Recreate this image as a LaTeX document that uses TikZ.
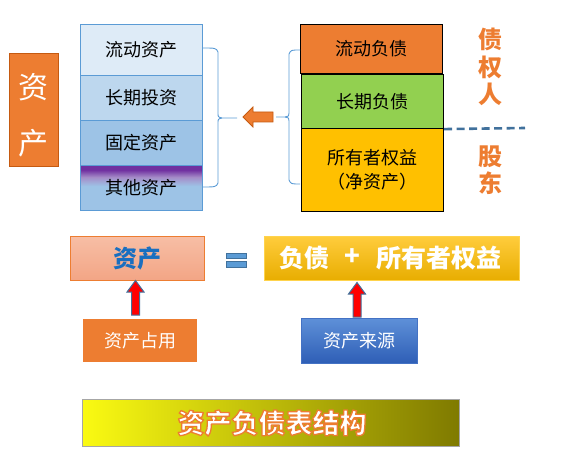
\documentclass[tikz,border=0pt]{standalone}
\usepackage{fontspec}
\setmainfont{Noto Sans CJK SC}
\usetikzlibrary{calc}
\definecolor{aorange}{HTML}{ED7D31}
\definecolor{aorangeD}{HTML}{C55A11}
\definecolor{cellA}{HTML}{DEEBF7}
\definecolor{cellB}{HTML}{BDD7EE}
\definecolor{cellC}{HTML}{9DC3E6}
\definecolor{cellLine}{HTML}{5B9BD5}
\definecolor{apurple}{HTML}{7030A0}
\definecolor{alav}{HTML}{A58CC8}
\definecolor{agreen}{HTML}{92D050}
\definecolor{agold}{HTML}{FFC000}
\definecolor{dashC}{HTML}{41719C}
\definecolor{salmonT}{HTML}{F7BEA5}
\definecolor{salmonB}{HTML}{F3A585}
\definecolor{textBlue}{HTML}{1A6FC0}
\definecolor{goldT}{HTML}{FFCC3C}
\definecolor{goldB}{HTML}{E8AD00}
\definecolor{blueT}{HTML}{5E90D8}
\definecolor{blueB}{HTML}{2E5EB6}
\definecolor{blueLine}{HTML}{4472C4}
\definecolor{titleL}{HTML}{FAFA12}
\definecolor{titleR}{HTML}{7F7A00}
\definecolor{titleLine}{HTML}{A6A6A6}
\pgfdeclareverticalshading{otherasset}{100bp}{color(0bp)=(cellC); color(52bp)=(cellC); color(62bp)=(alav); color(70bp)=(apurple); color(100bp)=(apurple)}
\newcommand{\outlinedtext}[1]{\special{pdf:literal direct 2 Tr 1.3 w 1 j 0.929 0.490 0.192 RG}#1\special{pdf:literal direct 0 Tr}}
\begin{document}
\begin{tikzpicture}[x=1pt,y=-1pt,
  lcell/.style={draw=cellLine, line width=0.9pt, minimum width=122, anchor=north west, inner sep=0pt, font=\fontsize{18}{24}\selectfont},
  rcell/.style={draw=black, line width=1.1pt, minimum width=142, anchor=north west, inner sep=0pt, align=center, font=\fontsize{18}{24}\selectfont},
  bracestyle/.style={draw=cellLine, line width=0.9pt},
  vtext/.style={text=aorange, align=center, font=\fontsize{24}{27.5}\selectfont\bfseries},
  redarr/.style={fill=red, draw=dashC, line width=1pt, line join=miter},
  wbox/.style={anchor=north west, inner sep=0pt, text=white},
  eqbar/.style={fill=cellLine, draw=dashC, line width=0.8pt}
]
\useasboundingbox (0,0) rectangle (575,462);

% big left asset box
\node[wbox, fill=aorange, draw=aorangeD, line width=0.9pt, minimum width=49, minimum height=113] (bigasset) at (9,53) {};
\node[text=white, font=\fontsize{30}{30}\selectfont] (bigA1) at (33.5,87) {资};
\node[text=white, font=\fontsize{30}{30}\selectfont] (bigA2) at (33.5,143) {产};

% left stack
\node[lcell, fill=cellA, minimum height=51] (la1) at (80,24) {流动资产};
\node[lcell, fill=cellB, minimum height=45] (la2) at (80,75) {长期投资};
\node[lcell, fill=cellC, minimum height=45] (la3) at (80,120) {固定资产};
\node[lcell, shading=otherasset, minimum height=45] (la4) at (80,165) {其他资产};

% right stack
\node[rcell, fill=aorange, minimum height=49] (rs1) at (300,24) {流动负债};
\node[rcell, fill=agreen, minimum height=54] (rs2) at (301,74) {长期负债};
\node[rcell, fill=agold, minimum height=83] (rs3) at (301,128) {所有者权益\\（净资产）};

% braces
\draw[bracestyle] (202,48) .. controls (216,48) .. (218,52) -- (218,113) .. controls (218,117) .. (222,118) -- (237,118);
\draw[bracestyle] (222,118) .. controls (218,119) .. (218,123) -- (218,183) .. controls (216,187) .. (202,187);
\draw[bracestyle] (300,50) .. controls (291,50) .. (289,54) -- (289,113) .. controls (289,116) .. (285,117) -- (276,117);
\draw[bracestyle] (285,117) .. controls (289,118) .. (289,121) -- (289,180) .. controls (291,184) .. (300,184);

% orange arrow
\draw[fill=aorange, draw=aorangeD, line width=0.8pt, line join=miter] (243,117) -- (253,107) -- (253,112) -- (273,112) -- (273,122) -- (253,122) -- (253,127) -- cycle;

% dashed separator
\coordinate (dashend) at (525,128);
\draw[draw=dashC, line width=2.6pt, dash pattern=on 8pt off 4.5pt] (rs2.south east) -- (dashend);

% vertical labels
\node[vtext] (creditor) at (490,67) {债\\权\\人};
\node[vtext] (holder) at (490,170) {股\\东};

% equation row
\node[wbox, draw=aorange, line width=1pt, top color=salmonT, bottom color=salmonB, minimum width=134, minimum height=44] (assetbox) at (70,236) {};
\node[text=textBlue, font=\fontsize{24}{24}\selectfont\bfseries] (assetlbl) at (137.5,258) {资产};

\draw[eqbar] (226,253) rectangle (246,258);
\draw[eqbar] (226,261) rectangle (246,267);

\node[wbox, draw=agold!70!white, line width=1pt, shading=axis, top color=goldT, middle color=agold, bottom color=goldB, minimum width=255, minimum height=44] (liabbox) at (264,236) {};
\node[text=white, font=\fontsize{25}{25}\selectfont\bfseries] (liab1) at (304,258) {负债};
\node[text=white, font=\fontsize{26}{26}\selectfont\bfseries] (liab2) at (352,257) {+};
\node[text=white, font=\fontsize{25}{25}\selectfont\bfseries] (liab3) at (439,258) {所有者权益};

% source boxes
\node[wbox, fill=aorange, minimum width=114, minimum height=43, font=\fontsize{18}{18}\selectfont] (occupy) at (83,319) {资产占用};
\node[wbox, draw=blueLine, line width=0.8pt, top color=blueT, bottom color=blueB, minimum width=116, minimum height=45, font=\fontsize{18}{18}\selectfont] (source) at (301,318) {资产来源};

% red up arrows
\draw[redarr] (131.5,315) -- (131.5,292) -- (127,292) -- (135.5,280.5) -- (144,292) -- (139.5,292) -- (139.5,315) -- cycle;
\draw[redarr] (353,317) -- (353,294) -- (348.5,294) -- (357,282.5) -- (365.5,294) -- (361,294) -- (361,317) -- cycle;

% title bar
\node[wbox, draw=titleLine, line width=1.3pt, left color=titleL, right color=titleR, minimum width=377, minimum height=47] (titlebar) at (82,399) {};
\node[text=white, font=\fontsize{27}{27}\selectfont\bfseries] (title) at (272,423) {\outlinedtext{资产负债表结构}};
\end{tikzpicture}
\end{document}
